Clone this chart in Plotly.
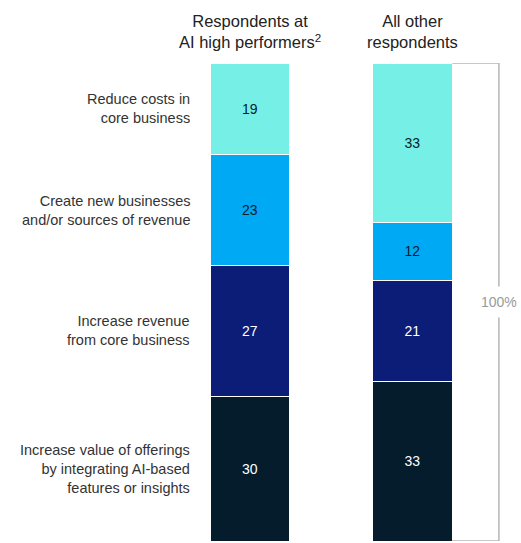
import plotly.graph_objects as go

# Respondent groups (columns) and the share of each goal, bottom segment first
groups = ["Respondents at<br>AI high performers<sup>2</sup>", "All other<br>respondents"]
goals = [
    "Increase value of offerings<br>by integrating AI-based<br>features or insights",
    "Increase revenue<br>from core business",
    "Create new businesses<br>and/or sources of revenue",
    "Reduce costs in<br>core business",
]
high_performers = [30, 27, 23, 19]
all_others = [33, 21, 12, 33]

colors = ["#051C2C", "#0C1D78", "#00A9F4", "#76F0E6"]
text_colors = ["#FFFFFF", "#FFFFFF", "#051C2C", "#051C2C"]

FONT = "Liberation Sans, Arial, sans-serif"
xpos = [0, 1]
bar_w = 0.49

fig = go.Figure()
for i, goal in enumerate(goals):
    vals = [high_performers[i], all_others[i]]
    fig.add_trace(go.Bar(
        x=xpos,
        y=vals,
        width=bar_w,
        marker=dict(color=colors[i], line=dict(color="#FFFFFF", width=1)),
        text=[str(v) for v in vals],
        textposition="inside",
        insidetextanchor="middle",
        textangle=0,
        constraintext="none",
        textfont=dict(family=FONT, size=14, color=text_colors[i]),
        hoverinfo="skip",
        showlegend=False,
    ))

annotations = []
# Goal labels to the left of the first column, centred on its segments
cum = 0
for goal, v in zip(goals, high_performers):
    mid = cum + v / 2
    cum += v
    annotations.append(dict(
        x=-0.357, y=mid, xref="x", yref="y", text=goal, showarrow=False,
        xanchor="right", yanchor="middle", align="right",
        font=dict(family=FONT, size=14.5, color="#333333"),
    ))

# Column headers
for xp, g in zip(xpos, groups):
    annotations.append(dict(
        x=xp, y=1, xref="x", yref="paper", text=g, showarrow=False,
        xanchor="center", yanchor="bottom", yshift=10, align="center",
        font=dict(family=FONT, size=16.5, color="#222222"),
    ))

total = sum(all_others)
bx = 1.532
right_edge = 1 + bar_w / 2
gap = 3.2
annotations.append(dict(
    x=bx, y=total / 2, xref="x", yref="y", text="100%", showarrow=False,
    xanchor="center", yanchor="middle",
    font=dict(family=FONT, size=14, color="#9A9A9A"),
))

line_style = dict(color="#B5B5B5", width=1.5)
shapes = [
    dict(type="line", xref="x", yref="y", x0=right_edge, x1=bx, y0=total, y1=total, line=line_style),
    dict(type="line", xref="x", yref="y", x0=right_edge, x1=bx, y0=0, y1=0, line=line_style),
    dict(type="line", xref="x", yref="y", x0=bx, x1=bx, y0=total, y1=total / 2 + gap, line=line_style),
    dict(type="line", xref="x", yref="y", x0=bx, x1=bx, y0=total / 2 - gap, y1=0, line=line_style),
]

fig.update_layout(
    barmode="stack",
    width=521, height=543,
    margin=dict(l=0, r=0, t=63, b=2),
    paper_bgcolor="#FFFFFF", plot_bgcolor="#FFFFFF",
    xaxis=dict(range=[-1.538, 1.668], visible=False, fixedrange=True),
    yaxis=dict(range=[0, 99], visible=False, fixedrange=True),
    annotations=annotations,
    shapes=shapes,
    showlegend=False,
)

fig.write_html("out.html")
